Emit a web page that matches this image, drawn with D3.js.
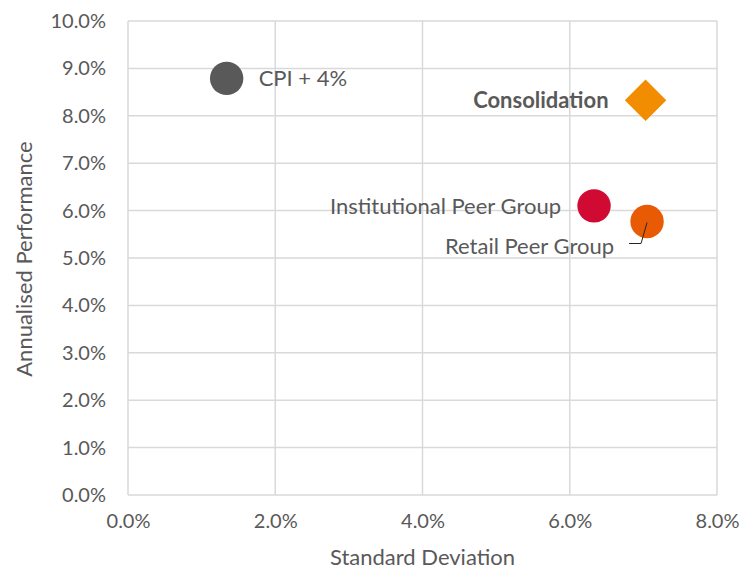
<!DOCTYPE html>
<html>
<head>
<meta charset="utf-8">
<script src="https://cdn.jsdelivr.net/npm/d3@7"></script>
<style>
  body { margin: 0; background: #fff; }
  text { font-family: Lato, "Liberation Sans", sans-serif; fill: #595959; }
</style>
</head>
<body>
<div id="chart"></div>
<script>
var names = ["CPI + 4%", "Consolidation", "Institutional Peer Group", "Retail Peer Group"];
var stdDev = [1.34, 7.03, 6.33, 7.05];
var perf = [8.79, 8.33, 6.10, 5.77];
var colors = ["#595959", "#F28C00", "#D10A33", "#E85A04"];
var xTicks = [0, 2, 4, 6, 8];
var yTicks = [0, 1, 2, 3, 4, 5, 6, 7, 8, 9, 10];

var csize = [745, 571];
var margin = {left: 128, right: 28, top: 21, bottom: 76};

var svg = d3.select("#chart").append("svg")
  .attr("width", csize[0]).attr("height", csize[1]);

var x = d3.scaleLinear().domain([0, 8]).range([margin.left, csize[0] - margin.right]);
var y = d3.scaleLinear().domain([0, 10]).range([csize[1] - margin.bottom, margin.top]);

// gridlines
svg.append("g").selectAll("line.h")
  .data(yTicks).enter().append("line")
    .attr("x1", x(0)).attr("x2", x(8))
    .attr("y1", function (d) { return y(d); })
    .attr("y2", function (d) { return y(d); })
    .style("stroke", "#d9d9d9").style("stroke-width", 1.5);

svg.append("g").selectAll("line.v")
  .data(xTicks).enter().append("line")
    .attr("y1", y(0)).attr("y2", y(10))
    .attr("x1", function (d) { return x(d); })
    .attr("x2", function (d) { return x(d); })
    .style("stroke", "#d9d9d9").style("stroke-width", 1.5);

// axes (labels only)
var fmt = function (d) { return d.toFixed(1) + "%"; };

var yAxis = svg.append("g")
  .attr("transform", "translate(" + x(0) + ",0)")
  .call(d3.axisLeft(y).tickValues(yTicks).tickSize(0).tickPadding(22).tickFormat(fmt));
yAxis.select(".domain").remove();
yAxis.selectAll("text").style("font-size", "20px").style("fill", "#595959").attr("font-family", null);

var xAxis = svg.append("g")
  .attr("transform", "translate(0," + y(0) + ")")
  .call(d3.axisBottom(x).tickValues(xTicks).tickSize(0).tickPadding(19).tickFormat(fmt));
xAxis.select(".domain").remove();
xAxis.selectAll("text").style("font-size", "20px").style("fill", "#595959").attr("font-family", null);

// axis titles
svg.append("text")
  .attr("x", x(4)).attr("y", 565)
  .style("text-anchor", "middle").style("font-size", "22px")
  .text("Standard Deviation");

svg.append("text")
  .attr("transform", "translate(32," + (y(5) + 1) + ") rotate(-90)")
  .style("text-anchor", "middle").style("font-size", "22px")
  .text("Annualised Performance");

var data = names.map(function (n, i) {
  return {name: n, sd: stdDev[i], perf: perf[i], color: colors[i]};
});

// markers
data.forEach(function (d) {
  if (d.name === "Consolidation") {
    svg.append("path")
      .attr("d", d3.symbol().type(d3.symbolSquare).size(860)())
      .attr("transform", "translate(" + x(d.sd) + "," + y(d.perf) + ") rotate(45)")
      .style("fill", d.color);
  } else {
    svg.append("circle")
      .attr("cx", x(d.sd)).attr("cy", y(d.perf)).attr("r", 16.7)
      .style("fill", d.color);
  }
});

// leader line for Retail Peer Group
var r = data[3];
svg.append("path")
  .attr("d", "M" + x(r.sd) + "," + (y(r.perf) + 1) + " L" + (x(r.sd) - 6) + "," + (y(r.perf) + 22) +
    " L" + (x(r.sd) - 18) + "," + (y(r.perf) + 22))
  .style("fill", "none").style("stroke", "#262626").style("stroke-width", 1);

// data labels
var labels = [
  {i: 0, dx: 32, dy: 8, anchor: "start", bold: false},
  {i: 1, dx: -37, dy: 8, anchor: "end", bold: true},
  {i: 2, dx: -33, dy: 8, anchor: "end", bold: false},
  {i: 3, dx: -33, dy: 32, anchor: "end", bold: false}
];
labels.forEach(function (l) {
  var d = data[l.i];
  svg.append("text")
    .attr("x", x(d.sd) + l.dx).attr("y", y(d.perf) + l.dy)
    .style("text-anchor", l.anchor)
    .style("font-size", "22px")
    .style("font-weight", l.bold ? "bold" : "normal")
    .text(d.name);
});
</script>
</body>
</html>
